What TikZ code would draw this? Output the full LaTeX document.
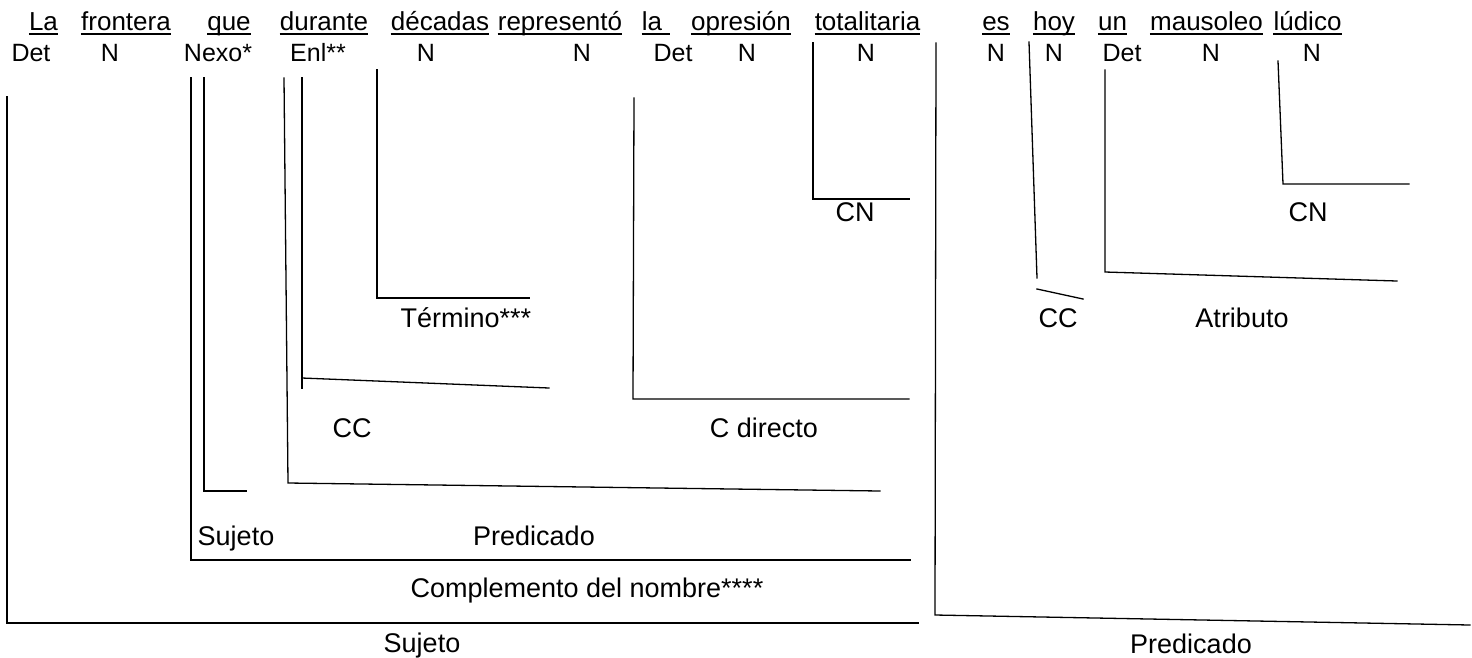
\documentclass[tikz,border=0pt]{standalone}
\usepackage{fontspec}
\setmainfont{Liberation Sans}
\begin{document}
\tikzset{
  word/.style={anchor=base, inner sep=0pt, font=\fontsize{26}{30}\selectfont},
  cat/.style={anchor=base, inner sep=0pt, font=\fontsize{25}{29}\selectfont},
  lab/.style={anchor=base, inner sep=0pt, font=\fontsize{27}{31}\selectfont},
  brk/.style={line width=1.3pt, line join=miter, line cap=rect},
  ul/.style={line width=1.5pt}
}
\begin{tikzpicture}[x=1pt,y=-1pt]
\useasboundingbox (0,0) rectangle (1472,657);
% ---- sentence words (row 1)
\node[word] (w1) at (43.5,30.5) {La};
\node[word] (w2) at (126,30.5) {frontera};
\node[word] (w3) at (229,30.5) {que};
\node[word] (w4) at (324,30.5) {durante};
\node[word] (w5) at (440,30.5) {décadas};
\node[word] (w6) at (560,30.5) {representó};
\node[word] (w7) at (652,30.5) {la};
\node[word] (w8) at (741,30.5) {opresión};
\node[word] (w9) at (867.5,30.5) {totalitaria};
\node[word] (w10) at (996,30.5) {es};
\node[word] (w11) at (1054,30.5) {hoy};
\node[word] (w12) at (1112.5,30.5) {un};
\node[word] (w13) at (1206.5,30.5) {mausoleo};
\node[word] (w14) at (1307.5,30.5) {lúdico};
\foreach \w in {w1,w2,w3,w4,w5,w6,w8,w9,w10,w11,w12,w13,w14}
  \draw[ul] ([yshift=-3.5pt]\w.base west) -- ([yshift=-3.5pt]\w.base east);
\draw[ul] ([yshift=-3.5pt]w7.base west) -- ([yshift=-3.5pt,xshift=8pt]w7.base east);
% ---- categories (row 2)
\node[cat] (c1) at (31,61) {Det};
\node[cat] (c2) at (110,61) {N};
\node[cat] (c3) at (218,61) {Nexo*};
\node[cat] (c4) at (318,61) {Enl**};
\node[cat] (c5) at (426,61) {N};
\node[cat] (c6) at (582,61) {N};
\node[cat] (c7) at (673,61) {Det};
\node[cat] (c8) at (747,61) {N};
\node[cat] (c9) at (866,61) {N};
\node[cat] (c10) at (996,61) {N};
\node[cat] (c11) at (1054,61) {N};
\node[cat] (c12) at (1122,61) {Det};
\node[cat] (c13) at (1211,61) {N};
\node[cat] (c14) at (1312,61) {N};
% ---- brackets
\draw[brk] (7,97) -- (7,623) -- (918,623);
\node[lab] (lSuj) at (422,652.5) {Sujeto};
\draw[brk] (191,78) -- (191,560) -- (910,560);
\node[lab] (lCompl) at (587,597.5) {Complemento del nombre****};
\draw[brk] (204,78) -- (204,491) -- (246,491);
\node[lab] (lSuj2) at (236,545.5) {Sujeto};
\draw[brk] (284,78) -- (288,483) -- (880,491);
\node[lab] (lPred2) at (534,545.5) {Predicado};
\draw[brk] (302,78) -- (302,388);
\draw[brk] (302,378) -- (549,388);
\node[lab] (lCC) at (352,437.5) {CC};
\draw[brk] (377,70) -- (377,298) -- (529,298);
\node[lab] (lTerm) at (466,327.5) {Término***};
\draw[brk] (634,98) -- (633,399) -- (909,399);
\node[lab] (lCD) at (764,437.5) {C directo};
\draw[brk] (813,43) -- (813,199) -- (909,199);
\node[lab] (lCN1) at (855,221.5) {CN};
\draw[brk] (936,43) -- (935,615) -- (1470,625);
\node[lab] (lPred) at (1191,653.5) {Predicado};
\draw[brk] (1029,42) -- (1037,278);
\draw[brk] (1037,289) -- (1083,299);
\node[lab] (lCC2) at (1058,327.5) {CC};
\draw[brk] (1105,70) -- (1105,272) -- (1397,281);
\node[lab] (lAtr) at (1242,327.5) {Atributo};
\draw[brk] (1278,61) -- (1283,184) -- (1409,184);
\node[lab] (lCN2) at (1308,221.5) {CN};
\end{tikzpicture}
\end{document}
